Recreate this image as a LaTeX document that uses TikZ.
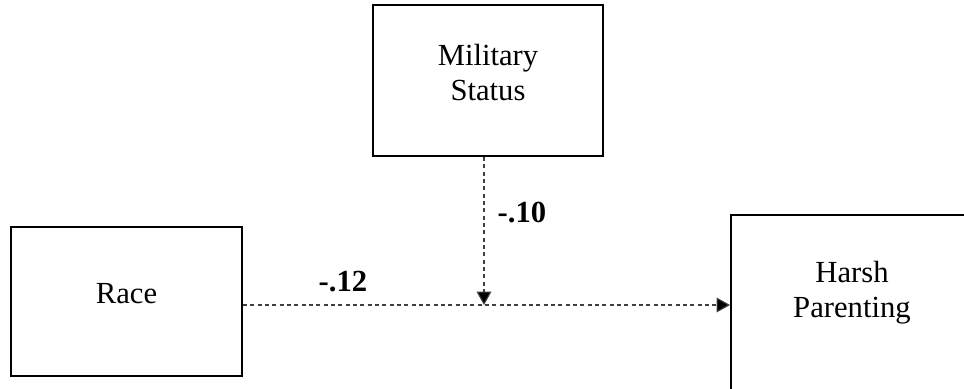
\documentclass[tikz,border=0pt]{standalone}
\usepackage{fontspec}
\setmainfont{Liberation Serif}
\usetikzlibrary{arrows.meta}

\begin{document}
\begin{tikzpicture}[x=0.75pt, y=-0.75pt,
  every node/.style={font=\fontsize{23}{26}\selectfont},
  box/.style={draw, line width=1.6pt, align=center, inner sep=0pt, text depth=12pt},
  link/.style={dash pattern=on 3pt off 2.5pt, line width=0.8pt, draw=black!75,
    -{Triangle[length=10pt, width=11pt, fill=black]}},
  coef/.style={font=\fontsize{23}{26}\selectfont\bfseries}]
  \useasboundingbox (0,0) rectangle (964,389);
  \node[box, minimum width=172.5pt, minimum height=113pt] (mil) at (488, 80.5) {Military\\Status};
  \node[box, minimum width=173pt, minimum height=112pt] (race) at (126.5, 301.5) {Race};
  \node[box, minimum width=200pt, minimum height=150pt, anchor=north west] (harsh) at (730, 214) {};
  \node[align=center] (harshtext) at (852, 293) {Harsh\\Parenting};
  \coordinate (join) at (484, 305);
  \draw[link] (race.east |- join) -- (harsh.west |- join);
  \draw[link] (mil.south -| join) -- (join);
  \node[coef] (c12) at (343, 282) {-.12};
  \node[coef] (c10) at (522, 213) {-.10};
\end{tikzpicture}
\end{document}
